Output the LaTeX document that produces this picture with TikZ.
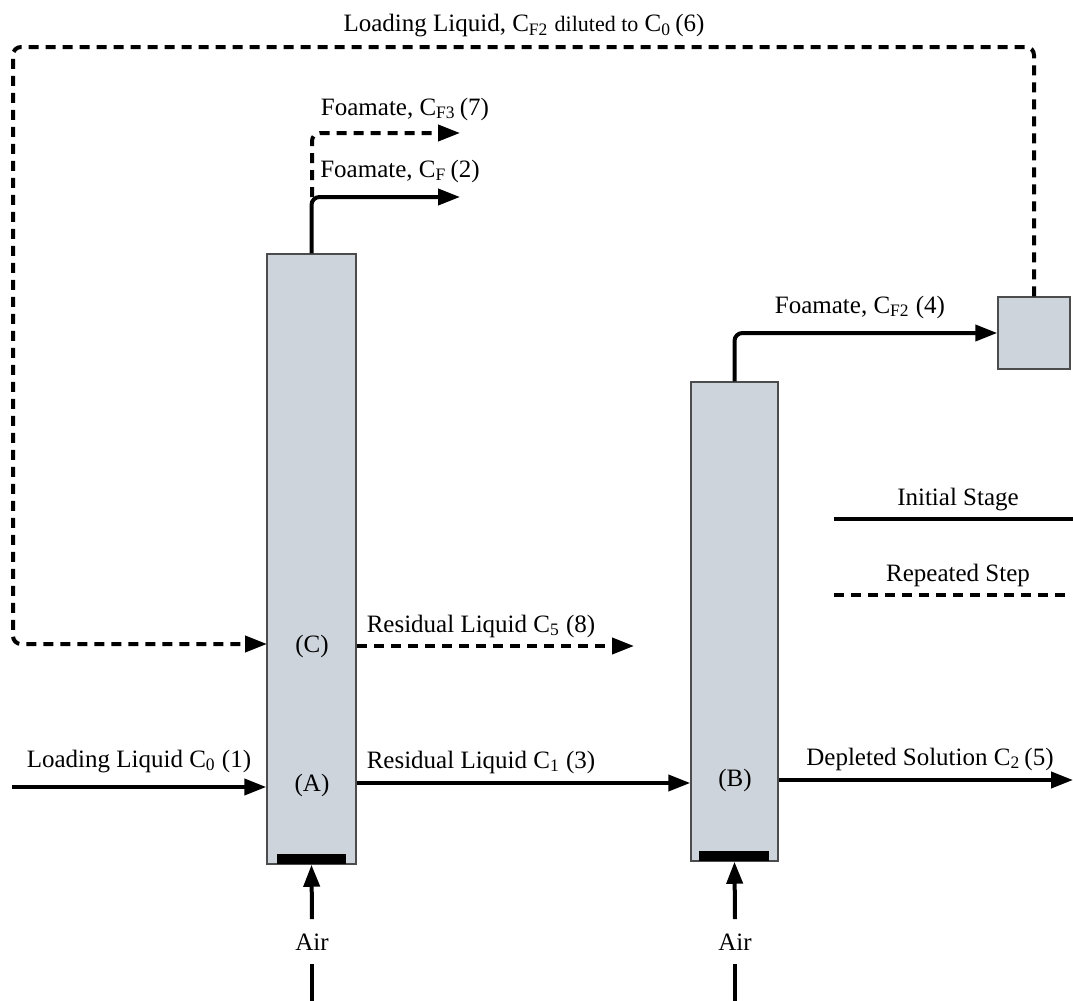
\documentclass[tikz,border=0pt]{standalone}
\usepackage{fontspec}
\setmainfont{Liberation Serif}
\usetikzlibrary{arrows.meta,positioning,calc}
\definecolor{colfill}{RGB}{206,212,220}

\begin{document}
\begin{tikzpicture}[x=0.5pt, y=-0.5pt,
    flow/.style={line width=2pt, -{Triangle[length=11pt,width=8pt]}, rounded corners=4pt},
    recycle/.style={flow, dash pattern=on 5pt off 3.5pt},
    plain/.style={line width=2pt},
    column/.style={draw=black!70, line width=0.75pt, fill=colfill, inner sep=0pt},
    bar/.style={fill=black, inner sep=0pt},
    lbl/.style={font=\fontsize{12.5}{15}\selectfont, anchor=base, inner sep=0pt},
    airlbl/.style={lbl, inner ysep=7pt}]
    \useasboundingbox (0,0) rectangle (1073,1001);

    \node[column, minimum width=44.5pt, minimum height=305pt] (colA) at (311.5,559) {};
    \node[column, minimum width=43.5pt, minimum height=239.5pt] (colB) at (734.5,621.5) {};
    \node[column, minimum width=36pt, minimum height=36pt] (tank) at (1034,333) {};
    \node[bar, minimum width=34.5pt, minimum height=5pt] (barA) at (311.5,859) {};
    \node[bar, minimum width=35pt, minimum height=5pt] (barB) at (734,856) {};

    \node[lbl] (lA) at (312,791) {(A)};
    \node[lbl] (lB) at (735,786) {(B)};
    \node[lbl] (lC) at (312,652) {(C)};

    \node[airlbl] (airA) at (312,950) {Air};
    \node[airlbl] (airB) at (735,950) {Air};
    \coordinate (botA) at (312,1001);
    \coordinate (botB) at (735,1001);

    \coordinate (in1) at (12,787);
    \coordinate (out5) at (1073,780);
    \coordinate (out8) at (634,646);
    \coordinate (fA) at (460,197);
    \coordinate (fA3) at (460,133);
    \coordinate (loopL) at (13,47);
    \coordinate (cIn) at (267,644);
    \coordinate (splitA) at (312,197);

    \node[lbl] (t1) at (139,767) {Loading Liquid C\textsubscript{0} (1)};
    \node[lbl] (t3) at (481,768) {Residual Liquid C\textsubscript{1} (3)};
    \node[lbl] (t8) at (481,632) {Residual Liquid C\textsubscript{5} (8)};
    \node[lbl] (t5) at (930,765) {Depleted Solution C\textsubscript{2}\,(5)};
    \node[lbl] (t7) at (405,115) {Foamate, C\textsubscript{F3}\,(7)};
    \node[lbl] (t2) at (400,177) {Foamate, C\textsubscript{F}\,(2)};
    \node[lbl] (t4) at (860,313) {Foamate, C\textsubscript{F2} (4)};
    \node[lbl] (t6) at (524,32) {Loading Liquid, C\textsubscript{F2} {\fontsize{11}{13}\selectfont diluted to} C\textsubscript{0}\,(6)};

    \node[lbl] (legI) at (958,505) {Initial Stage};
    \node[lbl] (legR) at (958,581) {Repeated Step};
    \coordinate (legI1) at (834,519);
    \coordinate (legI2) at (1073,519);
    \coordinate (legR1) at (834,595);
    \coordinate (legR2) at (1068,595);

    \draw[flow] (in1) -- (colA.west |- in1);
    \draw[flow] (colA.east |- 0,783) -- (colB.west |- 0,783);
    \draw[flow] (colB.east |- out5) -- (out5);
    \draw[recycle] (colA.east |- out8) -- (out8);
    \draw[flow] (colA.north) |- (fA);
    \draw[recycle] (splitA) |- (fA3);
    \draw[flow] (colB.north) |- (tank.west);
    \draw[recycle] (tank.north) |- (loopL) |- (cIn);

    \draw[plain] (botA) -- (airA.south);
    \draw[flow] (airA.north) -- (colA.south);
    \draw[plain] (botB) -- (airB.south);
    \draw[flow] (airB.north) -- (colB.south);

    \draw[plain] (legI1) -- (legI2);
    \draw[plain, dash pattern=on 5pt off 3.5pt] (legR1) -- (legR2);
\end{tikzpicture}
\end{document}
